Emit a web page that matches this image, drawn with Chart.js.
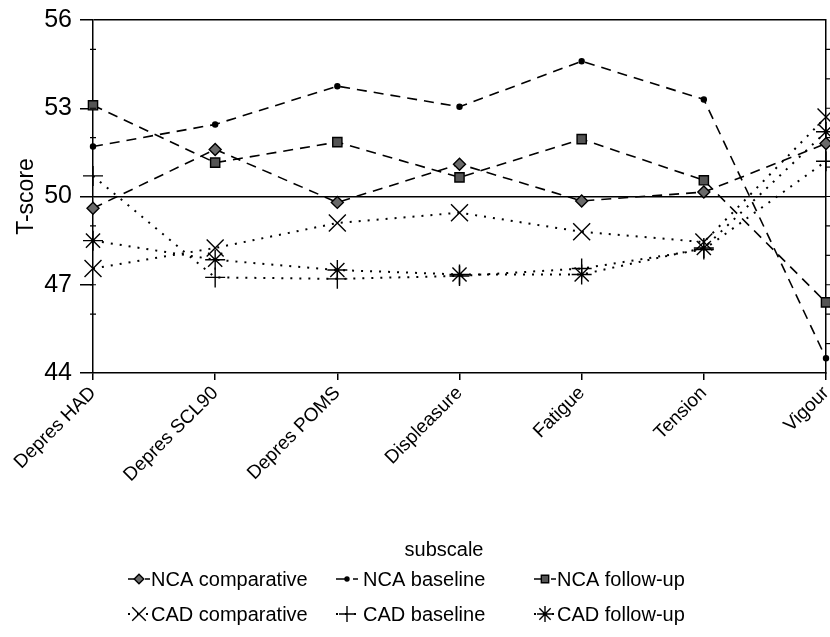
<!DOCTYPE html>
<html>
<head>
<meta charset="utf-8">
<style>
  html, body { margin: 0; padding: 0; background: #fff; }
  #wrap { width: 830px; height: 637px; }
</style>
<script src="https://cdn.jsdelivr.net/npm/chart.js@4/dist/chart.umd.min.js"></script>
</head>
<body>
<div id="wrap"><canvas id="chart" width="830" height="637"></canvas></div>
<script>
// Subscale categories along the x axis
const subscales = ['Depres HAD', 'Depres SCL90', 'Depres POMS', 'Displeasure', 'Fatigue', 'Tension', 'Vigour'];

// Mean T-scores per group and measurement
const ncaComparative = [49.6, 51.6, 49.8, 51.1, 49.85, 50.15, 51.8];
const ncaBaseline    = [51.7, 52.45, 53.75, 53.05, 54.6, 53.3, 44.5];
const ncaFollowUp    = [53.1, 51.15, 51.85, 50.65, 51.95, 50.55, 46.4];
const cadComparative = [47.55, 48.25, 49.1, 49.45, 48.8, 48.45, 52.7];
const cadBaseline    = [50.7, 47.25, 47.2, 47.3, 47.55, 48.2, 51.2];
const cadFollowUp    = [48.5, 47.85, 47.5, 47.35, 47.35, 48.25, 52.2];

// Y axis range and labelled ticks
const yMin = 44;
const yMax = 56;
const yStep = 3;
const referenceLine = 50;

const xTitle = 'subscale';

const FONT = "'Liberation Sans', Arial, Helvetica, sans-serif";
const DASHED = [10, 7];
const DOTTED = [2, 7];

function series(label, data, dash, width, style, radius, fill) {
  return {
    label,
    data,
    borderColor: '#000',
    borderWidth: width,
    borderDash: dash,
    tension: 0,
    fill: false,
    clip: false,
    pointStyle: style,
    pointRadius: radius,
    pointHoverRadius: radius,
    pointBackgroundColor: fill,
    pointBorderColor: '#000',
    pointBorderWidth: 1.4
  };
}

const datasets = [
  series('NCA comparative', ncaComparative, DASHED, 1.6, 'rectRot', 6, '#6a6a6a'),
  series('NCA baseline', ncaBaseline, DASHED, 1.6, 'circle', 2.5, '#000'),
  series('NCA follow-up', ncaFollowUp, DASHED, 1.6, 'rect', 6.5, '#555'),
  series('CAD comparative', cadComparative, DOTTED, 2, 'crossRot', 12, '#000'),
  series('CAD baseline', cadBaseline, DOTTED, 2, 'cross', 10, '#000'),
  series('CAD follow-up', cadFollowUp, DOTTED, 2, 'star', 10, '#000')
];

// Small unlabelled ticks on the vertical axes
const minorTicks = {
  id: 'minorTicks',
  afterDraw(chart) {
    const y = chart.scales.y;
    const {left, right} = chart.chartArea;
    const ctx = chart.ctx;
    ctx.save();
    ctx.strokeStyle = '#000';
    ctx.lineWidth = 1.2;
    for (let v = yMin + 1; v < yMax; v++) {
      const py = y.getPixelForValue(v);
      ctx.beginPath();
      if (v % yStep !== 0) {
        ctx.moveTo(left - 3, py);
        ctx.lineTo(left + 3, py);
      }
      ctx.moveTo(right, py);
      ctx.lineTo(right + 4, py);
      ctx.stroke();
    }
    ctx.restore();
  }
};

// X axis title plus a two-row legend with line sample and marker for every series
const gridLegend = {
  id: 'gridLegend',
  afterDraw(chart) {
    const ctx = chart.ctx;
    const colSymbol = [128, 336, 534];
    const colText = [151, 363, 557];
    const rowY = [579, 614];
    ctx.save();

    ctx.fillStyle = '#000';
    ctx.font = '20px ' + FONT;
    ctx.textBaseline = 'middle';
    ctx.textAlign = 'center';
    ctx.fillText(xTitle, 444, 550);

    chart.data.datasets.forEach((ds, i) => {
      const row = i < 3 ? 0 : 1;
      const col = i % 3;
      const sx = colSymbol[col];
      const cy = rowY[row];
      // line sample
      ctx.save();
      ctx.strokeStyle = '#000';
      ctx.lineWidth = ds.borderWidth;
      ctx.setLineDash(ds.borderDash);
      ctx.beginPath();
      ctx.moveTo(sx, cy);
      ctx.lineTo(sx + 22, cy);
      ctx.stroke();
      ctx.restore();
      // marker
      ctx.save();
      ctx.setLineDash([]);
      ctx.fillStyle = ds.pointBackgroundColor;
      ctx.strokeStyle = ds.pointBorderColor;
      ctx.lineWidth = ds.pointBorderWidth;
      Chart.helpers.drawPoint(ctx, {
        pointStyle: ds.pointStyle,
        radius: ds.pointRadius * 0.8,
        rotation: 0,
        borderWidth: ds.pointBorderWidth
      }, sx + 11, cy);
      ctx.restore();
      // label
      ctx.fillStyle = '#000';
      ctx.font = '20px ' + FONT;
      ctx.textBaseline = 'middle';
      ctx.textAlign = 'left';
      ctx.fillText(ds.label, colText[col], cy + 1);
    });
    ctx.restore();
  }
};

new Chart(document.getElementById('chart'), {
  type: 'line',
  data: { labels: subscales, datasets },
  options: {
    responsive: false,
    devicePixelRatio: 1,
    animation: false,
    layout: { autoPadding: false, padding: { top: 20, right: 4, bottom: 74, left: 0 } },
    plugins: {
      legend: { display: false },
      tooltip: { enabled: false }
    },
    scales: {
      x: {
        type: 'category',
        offset: false,
        border: { display: true, color: '#000', width: 1.5 },
        grid: { drawOnChartArea: false, drawTicks: true, tickLength: 7, tickColor: '#000', lineWidth: 1.5 },
        ticks: {
          autoSkip: false,
          minRotation: 45,
          maxRotation: 45,
          padding: 2,
          color: '#000',
          font: { family: FONT, size: 19 }
        },
        title: { display: false },
        afterFit(scale) {
          scale.height = 190;
          scale.paddingLeft = 0;
          scale.paddingRight = 0;
        }
      },
      y: {
        min: yMin,
        max: yMax,
        position: 'left',
        border: { display: true, color: '#000', width: 1.5 },
        grid: {
          drawOnChartArea: true,
          drawTicks: true,
          tickLength: 13,
          tickColor: '#000',
          lineWidth: 1.5,
          color: (c) => (c.tick && (c.tick.value === referenceLine || c.tick.value === yMax)) ? '#000' : 'rgba(0,0,0,0)'
        },
        ticks: {
          stepSize: yStep,
          padding: 8,
          color: '#000',
          font: { family: FONT, size: 25 }
        },
        title: {
          display: true,
          text: 'T-score',
          color: '#000',
          font: { family: FONT, size: 23 },
          padding: { top: 13, bottom: 0 }
        },
        afterFit(scale) {
          scale.width = 93;
          scale.paddingTop = 0;
          scale.paddingBottom = 0;
        }
      },
      y2: {
        min: yMin,
        max: yMax,
        position: 'right',
        border: { display: true, color: '#000', width: 1.5 },
        grid: { drawOnChartArea: false, drawTicks: false },
        ticks: { display: false },
        afterFit(scale) {
          scale.width = 0;
          scale.paddingTop = 0;
          scale.paddingBottom = 0;
        }
      }
    }
  },
  plugins: [minorTicks, gridLegend]
});
</script>
</body>
</html>
